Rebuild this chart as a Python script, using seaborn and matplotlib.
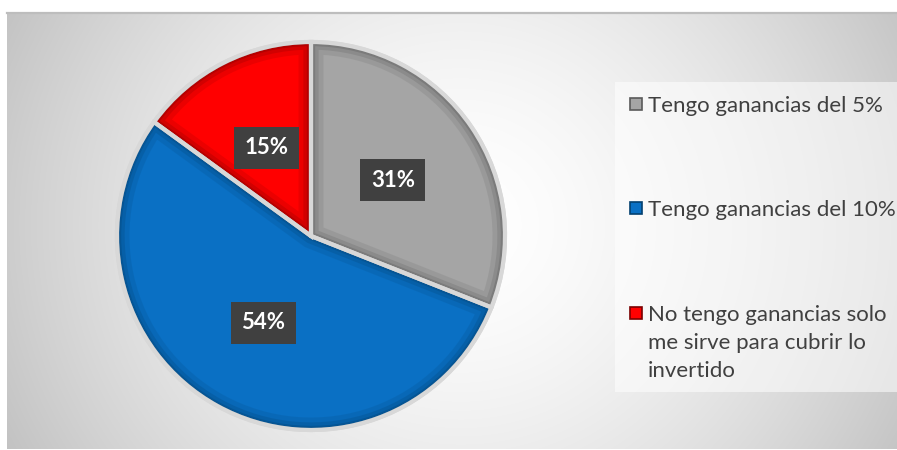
import numpy as np
import matplotlib
matplotlib.use("Agg")
import matplotlib.pyplot as plt
import seaborn as sns
from matplotlib.patches import Wedge, Rectangle

sns.set_theme(style="white")
plt.rcParams["font.family"] = ["Lato", "DejaVu Sans"]

# Survey answers and their shares (percent)
categories = [
    "Tengo ganancias del 5%",
    "Tengo ganancias del 10%",
    "No tengo ganancias solo\nme sirve para cubrir lo\ninvertido",
]
shares = [31, 54, 15]
base_colors = ["#A5A5A5", "#0A70C4", "#FF0000"]
rim_colors = ["#5A5A5A", "#03406F", "#7A0000"]

W, H = 897, 450
fig = plt.figure(figsize=(W / 100, H / 100), dpi=100)
fig.patch.set_facecolor("white")


def px(x, y):
    """Pixel position (from top-left) to figure fraction."""
    return x / W, 1 - y / H


# Panel with a soft radial gradient
panel = fig.add_axes([7 / W, 1 / H, 890 / W, 436 / H])
yy, xx = np.mgrid[13:449, 7:897]
d = np.hypot((xx - 460) / 1.0, (yy - 225) / 0.95)
v = 1 - 0.23 * np.clip(d / 500, 0, 1.3) ** 1.6
img = np.dstack([v, v, v])
panel.imshow(img, aspect="auto", extent=[0, 1, 0, 1], interpolation="bilinear")
panel.set_xlim(0, 1)
panel.set_ylim(0, 1)
panel.set_xticks([])
panel.set_yticks([])
for side in ["left", "right", "bottom"]:
    panel.spines[side].set_visible(False)
panel.spines["top"].set_color("#BDBDBD")
panel.spines["top"].set_linewidth(1.6)

# Pie axes: centre at (311, 236) px, radius 194 px
r_px = 194
half = 1.1 * r_px
cx, cy = 311, 236
ax = fig.add_axes([(cx - half) / W, (H - cy - half) / H, 2 * half / W, 2 * half / H])
ax.set_facecolor("none")

wedges, texts, autotexts = ax.pie(
    shares,
    colors=base_colors,
    startangle=90,
    counterclock=False,
    autopct="%.0f%%",
    pctdistance=0.51,
    wedgeprops=dict(edgecolor="#D8D8D8", linewidth=3),
    textprops=dict(color="white", fontsize=16, fontweight="bold"),
)

# Bevelled rim: darker strokes clipped inside each slice
for w, rim in zip(wedges, rim_colors):
    for lw, a in [(18, 0.15), (11, 0.22), (6, 0.32), (3, 0.45)]:
        b = Wedge(w.center, w.r, w.theta1, w.theta2, facecolor="none",
                  edgecolor=rim, linewidth=lw, alpha=a, zorder=w.get_zorder() + 0.1)
        ax.add_patch(b)
        b.set_clip_path(w)
for w in wedges:
    sep = Wedge(w.center, w.r, w.theta1, w.theta2, facecolor="none",
                edgecolor="#D8D8D8", linewidth=3, zorder=w.get_zorder() + 0.2)
    ax.add_patch(sep)

for t in autotexts:
    t.set_zorder(10)
    t.set_bbox(dict(boxstyle="square,pad=0.47", facecolor="#404040", edgecolor="none"))

ax.set_xlim(-1.1, 1.1)
ax.set_ylim(-1.1, 1.1)
ax.set_aspect("equal")
ax.axis("off")

# Legend panel on the right
x0, y0 = px(615, 392)
x1, y1 = px(897, 82)
fig.patches.append(Rectangle((x0, y0), x1 - x0, y1 - y0, transform=fig.transFigure,
                             facecolor="white", alpha=0.55, edgecolor="none", zorder=1))

entry_rows = [104, 208, 313]  # first-line centre of each entry, px
line_gap = 28                  # px between wrapped lines
for label, color, rim, row in zip(categories, base_colors, rim_colors, entry_rows):
    mx, my = px(630, row + 6)
    fig.patches.append(Rectangle((mx, my), 12 / W, 12 / H, transform=fig.transFigure,
                                 facecolor=color, edgecolor=rim, linewidth=1.2, zorder=3))
    for k, line in enumerate(label.split("\n")):
        tx, ty = px(648, row + k * line_gap)
        fig.text(tx, ty, line, fontsize=16, color="#404040", ha="left", va="center_baseline",
                 zorder=4)

fig.savefig("out.png", dpi=100)
